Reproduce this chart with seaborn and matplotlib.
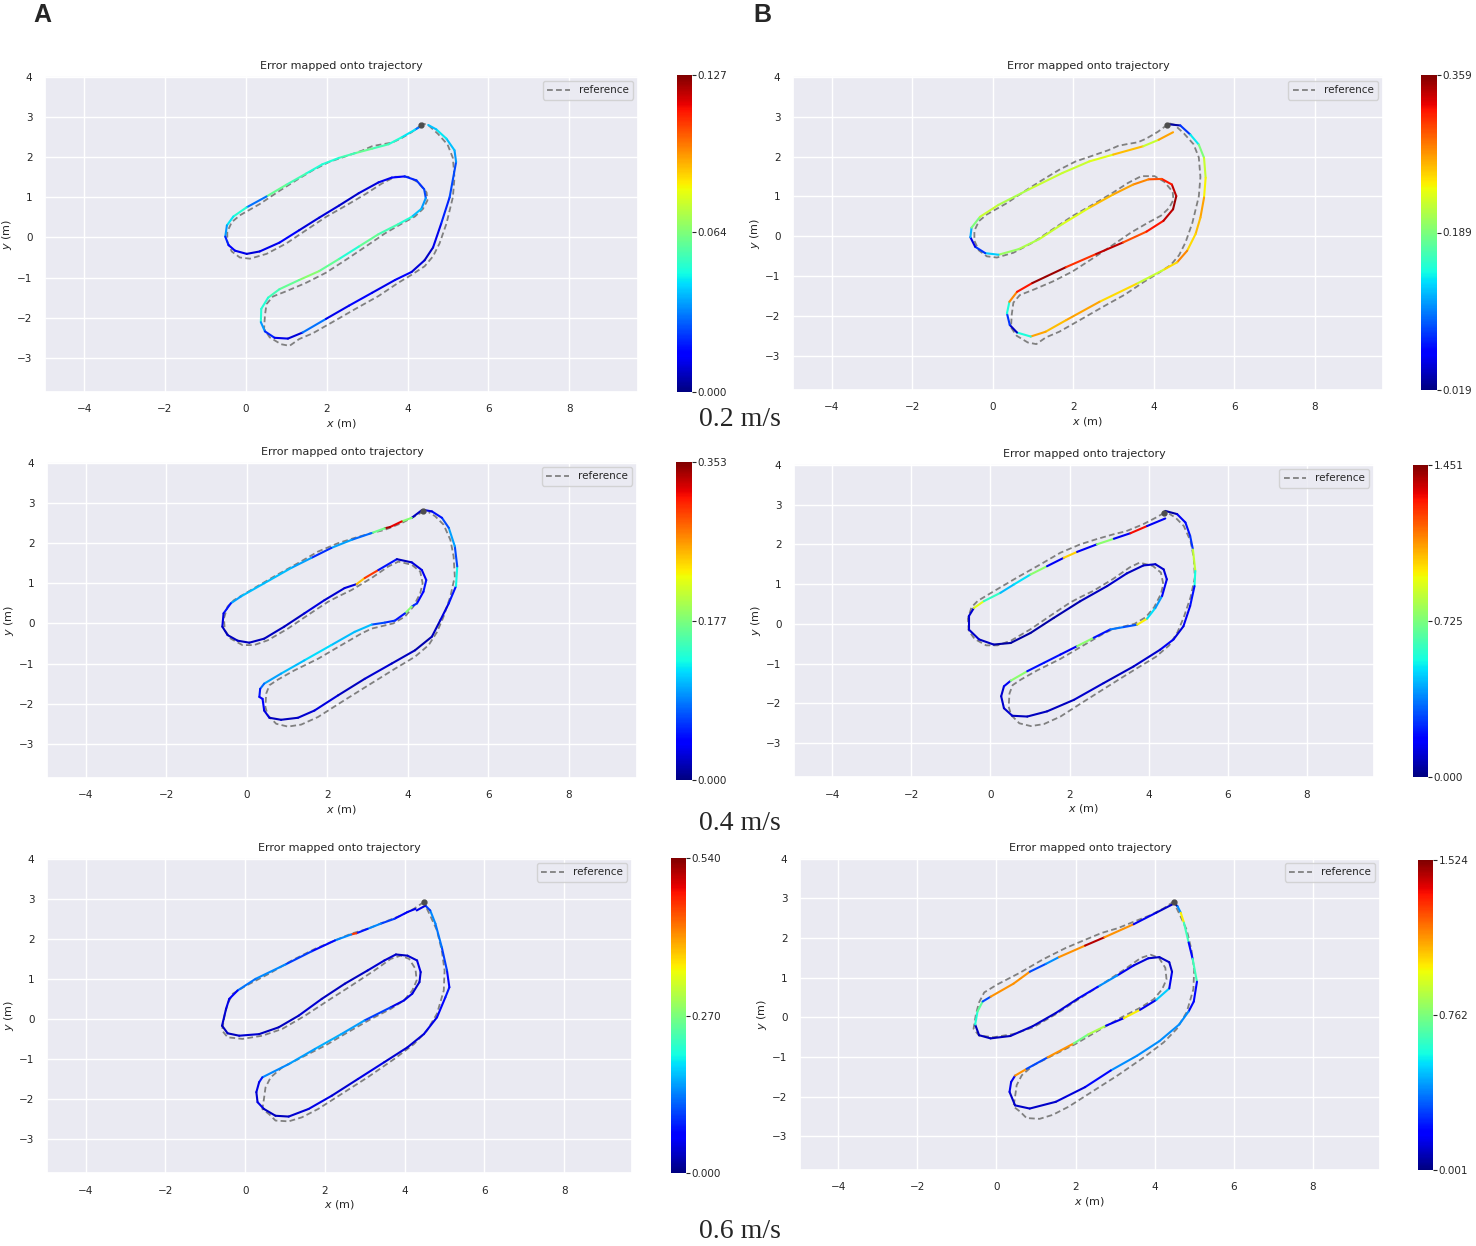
import numpy as np
import matplotlib
matplotlib.use("Agg")
import matplotlib.pyplot as plt
import seaborn as sns
from matplotlib.collections import LineCollection
from matplotlib.cm import ScalarMappable
from matplotlib.colors import Normalize

sns.set_theme(style="darkgrid")
plt.rcParams['font.family'] = ['DejaVu Sans']

# reference trajectories (one per speed)
ref_02_x = [4.34, 4.10, 3.81, 3.61, 3.32, 3.12, 2.87, 2.47, 2.06, 1.65, 1.24, 0.83, 0.34, -0.15, -0.35, -0.46, -0.46,
            -0.35, -0.15, 0.10, 0.51, 1.00, 1.49, 1.98, 2.47, 2.96, 3.36, 3.69, 4.02, 4.26, 4.47, 4.49, 4.38, 4.18,
            3.85, 3.44, 2.96, 2.47, 1.98, 1.49, 1.00, 0.67, 0.51, 0.47, 0.45, 0.59, 0.87, 1.08, 1.32, 1.65, 2.14,
            2.71, 3.28, 3.77, 4.10, 4.42, 4.63, 4.79, 4.96, 5.12, 5.16, 5.12, 4.99, 4.75, 4.51, 4.36]
ref_02_y = [2.80, 2.62, 2.45, 2.36, 2.31, 2.27, 2.16, 2.02, 1.88, 1.67, 1.42, 1.16, 0.83, 0.55, 0.38, 0.14, -0.11,
            -0.35, -0.50, -0.53, -0.41, -0.15, 0.18, 0.51, 0.79, 1.08, 1.34, 1.51, 1.51, 1.37, 1.12, 0.92, 0.71, 0.52,
            0.34, 0.10, -0.23, -0.56, -0.88, -1.13, -1.34, -1.47, -1.66, -1.95, -2.28, -2.49, -2.66, -2.70, -2.53,
            -2.39, -2.11, -1.78, -1.46, -1.13, -0.93, -0.72, -0.47, -0.15, 0.34, 1.00, 1.49, 1.98, 2.31, 2.58, 2.80, 2.84]

ref_04_x = [4.39, 4.18, 3.85, 3.43, 3.10, 2.68, 2.27, 1.77, 1.27, 0.68, 0.10, -0.32, -0.48, -0.57, -0.55, -0.40,
            -0.11, 0.18, 0.52, 1.02, 1.52, 2.02, 2.27, 2.60, 3.10, 3.52, 3.77, 4.10, 4.31, 4.37, 4.31, 4.14, 3.93,
            3.64, 3.35, 3.10, 2.85, 2.35, 1.77, 1.18, 0.77, 0.56, 0.48, 0.46, 0.52, 0.73, 1.02, 1.35, 1.77, 2.35,
            3.02, 3.68, 4.18, 4.52, 4.73, 4.89, 5.06, 5.17, 5.14, 5.06, 4.89, 4.68, 4.52]
ref_04_y = [2.79, 2.67, 2.50, 2.33, 2.25, 2.13, 2.00, 1.79, 1.50, 1.17, 0.83, 0.58, 0.42, 0.13, -0.17, -0.38, -0.54,
            -0.54, -0.42, -0.13, 0.21, 0.54, 0.67, 0.83, 1.13, 1.42, 1.54, 1.46, 1.29, 1.00, 0.75, 0.42, 0.17, 0.00,
            -0.07, -0.13, -0.25, -0.54, -0.88, -1.17, -1.40, -1.54, -1.75, -2.08, -2.29, -2.50, -2.57, -2.52, -2.33,
            -1.96, -1.54, -1.13, -0.83, -0.54, -0.21, 0.17, 0.67, 1.17, 1.67, 2.08, 2.46, 2.67, 2.77]

ref_06_x = [4.48, 4.23, 3.90, 3.49, 3.07, 2.66, 2.25, 1.75, 1.17, 0.60, 0.02, -0.31, -0.44, -0.52, -0.58, -0.44,
            -0.07, 0.43, 0.93, 1.50, 2.08, 2.66, 3.24, 3.65, 3.90, 4.11, 4.27, 4.30, 4.19, 3.98, 3.65, 3.16, 2.58,
            2.00, 1.42, 0.93, 0.64, 0.51, 0.47, 0.43, 0.60, 0.76, 1.09, 1.42, 1.83, 2.41, 3.07, 3.74, 4.23, 4.56,
            4.81, 4.98, 5.00, 4.93, 4.81, 4.64, 4.52]
ref_06_y = [2.92, 2.75, 2.58, 2.42, 2.25, 2.13, 1.96, 1.75, 1.46, 1.13, 0.83, 0.63, 0.38, 0.08, -0.29, -0.46, -0.50,
            -0.42, -0.25, 0.08, 0.46, 0.83, 1.21, 1.50, 1.58, 1.50, 1.25, 0.96, 0.71, 0.46, 0.25, 0.00, -0.33, -0.67,
            -0.96, -1.21, -1.46, -1.71, -2.00, -2.25, -2.38, -2.54, -2.56, -2.46, -2.25, -1.88, -1.46, -1.00, -0.63,
            -0.29, 0.13, 0.71, 1.21, 1.71, 2.21, 2.58, 2.83]

# estimated trajectories and their errors
a02_x = [4.38, 4.18, 3.85, 3.53, 3.12, 2.71, 2.30, 1.89, 1.49, 1.00, 0.51, 0.02, -0.31, -0.47, -0.51, -0.43, -0.27,
         0.02, 0.34, 0.83, 1.32, 1.81, 2.30, 2.79, 3.28, 3.61, 3.93, 4.22, 4.41, 4.45, 4.34, 4.10, 3.77, 3.28, 2.79,
         2.30, 1.81, 1.32, 0.83, 0.55, 0.38, 0.37, 0.47, 0.71, 1.04, 1.40, 1.98, 2.55, 3.12, 3.69, 4.10, 4.42, 4.63,
         4.83, 5.04, 5.20, 5.16, 4.96, 4.71, 4.51]
a02_y = [2.80, 2.68, 2.49, 2.32, 2.21, 2.10, 1.98, 1.82, 1.59, 1.31, 1.02, 0.75, 0.52, 0.30, 0.02, -0.19, -0.33,
         -0.41, -0.35, -0.13, 0.18, 0.49, 0.79, 1.10, 1.37, 1.49, 1.52, 1.42, 1.20, 0.98, 0.71, 0.51, 0.33, 0.08,
         -0.23, -0.54, -0.84, -1.06, -1.29, -1.50, -1.78, -2.11, -2.34, -2.50, -2.52, -2.37, -2.03, -1.70, -1.38,
         -1.06, -0.86, -0.57, -0.25, 0.34, 1.00, 1.88, 2.17, 2.46, 2.69, 2.80]
a02_err = [0.030, 0.045, 0.050, 0.055, 0.060, 0.055, 0.050, 0.050, 0.055, 0.060, 0.030, 0.050, 0.045, 0.035, 0.020,
           0.015, 0.012, 0.010, 0.012, 0.015, 0.010, 0.010, 0.008, 0.010, 0.012, 0.015, 0.020, 0.022, 0.025, 0.035,
           0.040, 0.050, 0.055, 0.060, 0.050, 0.060, 0.065, 0.060, 0.055, 0.050, 0.050, 0.035, 0.020, 0.012, 0.010,
           0.030, 0.012, 0.015, 0.012, 0.015, 0.010, 0.008, 0.012, 0.020, 0.025, 0.035, 0.040, 0.045, 0.040, 0.030]

b02_x = [4.37, 4.66, 4.91, 5.12, 5.25, 5.29, 5.25, 5.16, 5.04, 4.83, 4.58, 4.24, 3.57, 2.65, 1.82, 1.31, 0.94, 0.60,
         0.42, 0.35, 0.41, 0.60, 0.98, 1.82, 2.57, 3.24, 3.82, 4.24, 4.48, 4.56, 4.45, 4.20, 3.87, 3.49, 2.99, 2.40,
         1.73, 1.15, 0.64, 0.14, -0.19, -0.44, -0.56, -0.53, -0.32, 0.14, 0.90, 1.73, 2.40, 2.99, 3.74, 4.12, 4.48]
b02_y = [2.81, 2.78, 2.55, 2.30, 1.97, 1.47, 0.97, 0.47, 0.06, -0.36, -0.65, -0.84, -1.19, -1.64, -2.10, -2.39,
         -2.51, -2.41, -2.22, -1.93, -1.64, -1.39, -1.17, -0.77, -0.44, -0.15, 0.12, 0.39, 0.68, 1.01, 1.30, 1.44,
         1.43, 1.30, 1.05, 0.72, 0.31, -0.07, -0.32, -0.46, -0.42, -0.26, -0.02, 0.22, 0.49, 0.79, 1.18, 1.59, 1.88,
         2.05, 2.26, 2.42, 2.61]
b02_err = [0.03, 0.08, 0.14, 0.19, 0.22, 0.24, 0.27, 0.26, 0.25, 0.28, 0.25, 0.22, 0.25, 0.27, 0.26, 0.27, 0.15,
           0.04, 0.08, 0.15, 0.28, 0.32, 0.35, 0.31, 0.34, 0.30, 0.32, 0.34, 0.35, 0.34, 0.32, 0.30, 0.28, 0.27, 0.26,
           0.23, 0.22, 0.21, 0.20, 0.13, 0.08, 0.05, 0.12, 0.19, 0.22, 0.21, 0.22, 0.22, 0.23, 0.26, 0.22, 0.27, 0.27]

a04_x = [4.35, 4.10, 3.85, 3.56, 3.43, 3.10, 2.60, 2.10, 1.60, 1.10, 0.43, -0.15, -0.40, -0.58, -0.61, -0.48, -0.23,
         0.06, 0.43, 0.93, 1.43, 1.93, 2.43, 2.73, 2.93, 3.27, 3.73, 4.10, 4.35, 4.46, 4.39, 4.23, 4.10, 3.93, 3.68,
         3.43, 3.10, 2.68, 2.10, 1.43, 0.85, 0.43, 0.33, 0.31, 0.39, 0.43, 0.56, 0.85, 1.27, 1.68, 2.27, 2.93, 3.60,
         4.18, 4.60, 4.81, 5.02, 5.20, 5.23, 5.17, 5.02, 4.85, 4.60, 4.43]
a04_y = [2.82, 2.63, 2.54, 2.40, 2.37, 2.25, 2.08, 1.88, 1.63, 1.38, 1.00, 0.67, 0.50, 0.25, -0.08, -0.29, -0.43,
         -0.48, -0.38, -0.08, 0.25, 0.58, 0.88, 0.98, 1.13, 1.33, 1.60, 1.52, 1.33, 1.08, 0.79, 0.50, 0.42, 0.25,
         0.07, 0.02, -0.03, -0.21, -0.54, -0.92, -1.25, -1.50, -1.63, -1.83, -1.88, -2.17, -2.35, -2.40, -2.35,
         -2.17, -1.79, -1.38, -1.00, -0.67, -0.33, 0.08, 0.50, 0.93, 1.42, 1.92, 2.38, 2.63, 2.79, 2.82]
a04_err = [0.02, 0.18, 0.32, 0.34, 0.17, 0.08, 0.10, 0.06, 0.10, 0.11, 0.11, 0.10, 0.05, 0.03, 0.02, 0.02, 0.02, 0.02,
           0.02, 0.02, 0.03, 0.025, 0.03, 0.25, 0.30, 0.05, 0.02, 0.03, 0.035, 0.05, 0.04, 0.06, 0.18, 0.05, 0.06,
           0.07, 0.11, 0.11, 0.12, 0.11, 0.10, 0.08, 0.05, 0.04, 0.04, 0.03, 0.02, 0.02, 0.025, 0.03, 0.02, 0.025,
           0.02, 0.015, 0.02, 0.03, 0.05, 0.13, 0.07, 0.10, 0.07, 0.05, 0.03, 0.02]

b04_x = [4.42, 4.72, 4.93, 5.05, 5.12, 5.18, 5.16, 5.05, 4.88, 4.63, 4.29, 3.62, 2.86, 2.11, 1.43, 0.93, 0.55, 0.34,
         0.27, 0.34, 0.51, 0.93, 1.35, 1.77, 2.19, 2.61, 3.03, 3.37, 3.71, 3.96, 4.17, 4.34, 4.46, 4.38, 4.17, 3.87,
         3.45, 2.95, 2.27, 1.60, 1.01, 0.51, 0.08, -0.29, -0.55, -0.55, -0.42, -0.17, 0.25, 0.59, 1.01, 1.43, 1.85,
         2.19, 2.69, 3.12, 3.54, 3.96, 4.42]
b04_y = [2.84, 2.76, 2.55, 2.21, 1.87, 1.33, 0.95, 0.45, -0.06, -0.39, -0.65, -1.07, -1.49, -1.91, -2.20, -2.33,
         -2.31, -2.12, -1.82, -1.57, -1.43, -1.19, -0.98, -0.77, -0.56, -0.35, -0.14, -0.08, -0.02, 0.13, 0.40, 0.70,
         1.12, 1.37, 1.50, 1.47, 1.27, 0.95, 0.57, 0.15, -0.23, -0.48, -0.52, -0.39, -0.14, 0.19, 0.40, 0.57, 0.78,
         0.99, 1.24, 1.45, 1.66, 1.81, 2.00, 2.14, 2.28, 2.46, 2.65]
b04_err = [0.05, 0.15, 0.20, 0.25, 0.85, 0.55, 0.20, 0.15, 0.12, 0.15, 0.10, 0.08, 0.10, 0.08, 0.08, 0.08, 0.10, 0.10,
           0.10, 0.15, 0.75, 0.20, 0.20, 0.15, 0.75, 0.20, 0.35, 0.30, 0.95, 0.50, 0.40, 0.15, 0.12, 0.10, 0.10, 0.08,
           0.10, 0.08, 0.06, 0.05, 0.05, 0.05, 0.08, 0.10, 0.10, 0.10, 0.90, 0.60, 0.45, 0.50, 0.75, 0.15, 1.00, 0.15,
           0.75, 0.15, 1.30, 0.15, 0.12]

a06_x = [4.27, 4.07, 3.74, 3.40, 3.07, 2.79, 2.66, 2.25, 1.67, 1.01, 0.26, -0.19, -0.40, -0.48, -0.58, -0.44, -0.15,
         0.35, 0.84, 1.34, 1.92, 2.50, 3.07, 3.49, 3.78, 4.07, 4.31, 4.40, 4.37, 4.19, 3.98, 3.65, 2.99, 2.41, 1.75,
         1.09, 0.43, 0.35, 0.28, 0.31, 0.47, 0.76, 1.09, 1.59, 2.17, 2.83, 3.49, 4.07, 4.48, 4.81, 5.02, 5.12, 5.06,
         4.93, 4.77, 4.64, 4.52, 4.30]
a06_y = [2.75, 2.67, 2.50, 2.38, 2.25, 2.14, 2.11, 1.96, 1.69, 1.36, 1.00, 0.71, 0.50, 0.25, -0.17, -0.36, -0.42,
         -0.38, -0.21, 0.08, 0.50, 0.88, 1.21, 1.46, 1.61, 1.58, 1.46, 1.17, 0.92, 0.63, 0.46, 0.29, -0.04, -0.38,
         -0.75, -1.13, -1.46, -1.58, -1.83, -2.08, -2.25, -2.42, -2.44, -2.25, -1.92, -1.50, -1.08, -0.71, -0.38,
         0.04, 0.54, 0.79, 1.21, 1.79, 2.38, 2.71, 2.83, 2.71]
a06_err = [0.05, 0.06, 0.10, 0.14, 0.08, 0.46, 0.14, 0.07, 0.10, 0.14, 0.13, 0.06, 0.05, 0.04, 0.03, 0.03, 0.04, 0.03,
           0.03, 0.04, 0.03, 0.03, 0.04, 0.04, 0.03, 0.04, 0.05, 0.04, 0.04, 0.05, 0.05, 0.10, 0.15, 0.16, 0.15, 0.14,
           0.08, 0.05, 0.04, 0.05, 0.03, 0.03, 0.04, 0.05, 0.04, 0.05, 0.04, 0.04, 0.05, 0.06, 0.08, 0.07, 0.10, 0.13,
           0.14, 0.10, 0.05, 0.05]

b06_x = [4.49, 4.58, 4.66, 4.74, 4.86, 4.96, 5.07, 4.99, 4.86, 4.62, 4.12, 3.55, 2.89, 2.24, 1.50, 0.84, 0.47, 0.33,
         0.37, 0.47, 0.76, 1.29, 1.95, 2.32, 2.77, 3.22, 3.63, 4.04, 4.37, 4.44, 4.37, 4.12, 3.84, 3.47, 3.06, 2.56,
         2.07, 1.50, 0.92, 0.35, -0.15, -0.44, -0.54, -0.48, -0.35, -0.15, 0.43, 0.84, 1.25, 1.58, 2.24, 2.73, 3.47,
         4.04, 4.45]
b06_y = [2.89, 2.80, 2.64, 2.39, 1.89, 1.48, 0.90, 0.40, 0.15, -0.18, -0.60, -0.97, -1.34, -1.76, -2.13, -2.30,
         -2.22, -1.88, -1.63, -1.47, -1.30, -1.01, -0.66, -0.43, -0.21, -0.02, 0.19, 0.44, 0.73, 1.15, 1.39, 1.52,
         1.49, 1.31, 1.06, 0.77, 0.48, 0.11, -0.22, -0.47, -0.53, -0.45, -0.18, 0.15, 0.40, 0.52, 0.85, 1.15, 1.35,
         1.52, 1.81, 2.02, 2.35, 2.64, 2.85]
b06_err = [0.05, 0.40, 1.00, 0.65, 0.20, 0.65, 0.20, 0.20, 0.40, 0.40, 0.40, 0.40, 0.20, 0.12, 0.10, 0.10, 0.10, 0.15,
           0.15, 1.15, 0.30, 1.15, 0.75, 0.85, 0.15, 1.00, 0.15, 0.50, 0.15, 0.10, 0.10, 0.10, 0.12, 0.15, 0.40, 0.20,
           0.12, 0.10, 0.10, 0.08, 0.08, 0.08, 0.60, 0.70, 0.30, 1.15, 1.15, 0.30, 0.40, 1.15, 1.45, 1.15, 0.15, 0.10,
           0.05]

# colour bar ticks (min, mid, max) as printed
a02_ticks = [0.000, 0.064, 0.127]
b02_ticks = [0.019, 0.189, 0.359]
a04_ticks = [0.000, 0.177, 0.353]
b04_ticks = [0.000, 0.725, 1.451]
a06_ticks = [0.000, 0.270, 0.540]
b06_ticks = [0.001, 0.762, 1.524]

speed_labels = ["0.2 m/s", "0.4 m/s", "0.6 m/s"]

W, H = 1476, 1246


def box(l, t, r, b):
    return [l / W, 1 - b / H, (r - l) / W, (b - t) / H]


panels = [
    (ref_02_x, ref_02_y, a02_x, a02_y, a02_err, a02_ticks, (45, 76, 638, 392), (677, 75, 692, 392)),
    (ref_02_x, ref_02_y, b02_x, b02_y, b02_err, b02_ticks, (793, 76, 1383, 390), (1421, 75, 1437, 390)),
    (ref_04_x, ref_04_y, a04_x, a04_y, a04_err, a04_ticks, (47, 462, 637, 778), (676, 462, 692, 780)),
    (ref_04_x, ref_04_y, b04_x, b04_y, b04_err, b04_ticks, (794, 464, 1374, 777), (1413, 465, 1428, 777)),
    (ref_06_x, ref_06_y, a06_x, a06_y, a06_err, a06_ticks, (47, 858, 632, 1173), (671, 858, 686, 1173)),
    (ref_06_x, ref_06_y, b06_x, b06_y, b06_err, b06_ticks, (800, 858, 1380, 1170), (1418, 860, 1433, 1170)),
]

fig = plt.figure(figsize=(14.76, 12.46), dpi=100)

for rx, ry, ex, ey, err, ticks, apos, cpos in panels:
    ax = fig.add_axes(box(*apos))
    cax = fig.add_axes(box(*cpos))
    norm = Normalize(ticks[0], ticks[-1])

    # reference, dashed grey
    sns.lineplot(x=rx, y=ry, sort=False, estimator=None, ax=ax, color="grey",
                 linestyle=(0, (3.2, 1.8)), linewidth=1.3, label="reference", zorder=2)
    ax.plot(rx[0], ry[0], marker="o", ms=3.5, color="0.3", zorder=4)

    # estimate coloured by error
    pts = np.column_stack([ex, ey])
    segs = np.stack([pts[:-1], pts[1:]], axis=1)
    lc = LineCollection(segs, cmap="jet", norm=norm, linewidth=1.5, zorder=3, capstyle="round")
    lc.set_array(np.asarray(err[:-1]))
    ax.add_collection(lc)

    ax.set_xlim(-4.97, 9.7)
    ax.set_ylim(-3.85, 4.02)
    ax.set_xticks([-4, -2, 0, 2, 4, 6, 8])
    ax.set_yticks([-3, -2, -1, 0, 1, 2, 3, 4])
    ax.tick_params(labelsize=7.5, pad=3)
    ax.set_xlabel("$x$ (m)", fontsize=8, labelpad=2)
    ax.set_ylabel("$y$ (m)", fontsize=8, labelpad=2)
    ax.set_title("Error mapped onto trajectory", fontsize=8, pad=5)
    ax.legend(loc="upper right", fontsize=7.5, handlelength=2.2)

    cb = fig.colorbar(ScalarMappable(norm=norm, cmap="jet"), cax=cax, ticks=ticks)
    cb.set_ticklabels([f"{t:.3f}" for t in ticks])
    cb.outline.set_visible(False)
    cax.tick_params(labelsize=7.5, length=3, width=0.8, pad=1, right=True, colors="0.15")
    cax.grid(False)

fig.text(42 / W, 1 - 15 / H, "A", fontsize=18, fontweight="bold", family="Liberation Sans",
         ha="center", va="center")
fig.text(762 / W, 1 - 15 / H, "B", fontsize=18, fontweight="bold", family="Liberation Sans",
         ha="center", va="center")
for lab, yp in zip(speed_labels, [420, 824, 1232]):
    fig.text(740 / W, 1 - yp / H, lab, fontsize=20, family="Liberation Serif", ha="center", va="center")

fig.savefig("out.png", dpi=100)
